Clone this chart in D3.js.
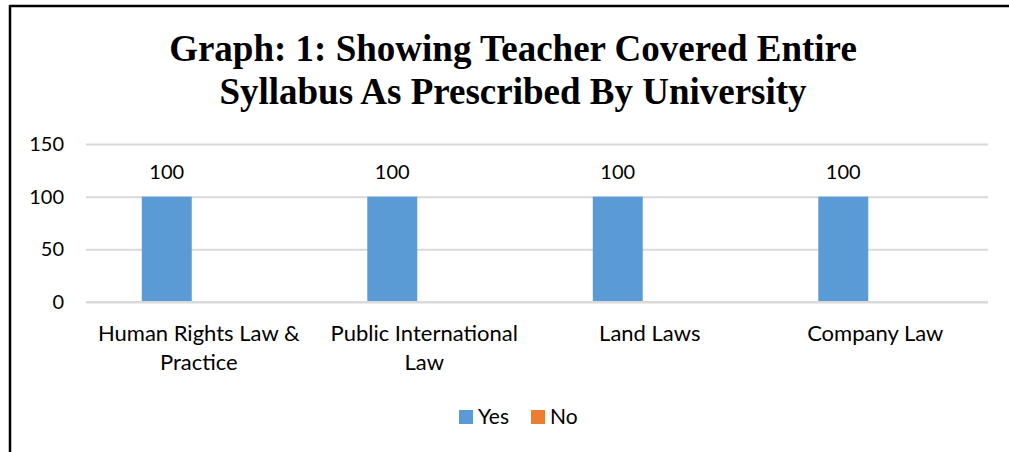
<!DOCTYPE html>
<html>
<head>
<meta charset="utf-8">
<script src="https://cdn.jsdelivr.net/npm/d3@7"></script>
<style>
  html, body { margin: 0; padding: 0; background: #fff; }
  svg { display: block; }
</style>
</head>
<body>
<svg id="chart" width="1009" height="452"></svg>
<script>
// chart data
const titleLines = ["Graph: 1: Showing Teacher Covered Entire", "Syllabus As Prescribed By University"];
const categories = ["Human Rights Law & Practice", "Public International Law", "Land Laws", "Company Law"];
const seriesNames = ["Yes", "No"];
const yesValues = [100, 100, 100, 100];
const noValues = [0, 0, 0, 0];
const yTicks = [0, 50, 100, 150];
const seriesColors = ["#5b9bd5", "#ed7d31"];

const svg = d3.select("#chart");
const width = 1009, height = 452;
const margin = {top: 144, right: 21, bottom: 150, left: 86};
const plotW = width - margin.left - margin.right;
const plotH = height - margin.top - margin.bottom;
const labelFont = "Lato, 'Open Sans', sans-serif";

// frame (top and left border lines)
svg.append("line").attr("x1", 9.5).attr("x2", width).attr("y1", 6).attr("y2", 6)
    .attr("stroke", "#000").attr("stroke-width", 2.5);
svg.append("line").attr("x1", 10).attr("x2", 10).attr("y1", 5).attr("y2", height)
    .attr("stroke", "#000").attr("stroke-width", 2.5);

// title
svg.append("text")
    .attr("x", 513).attr("y", 61)
    .attr("text-anchor", "middle")
    .style("font-family", "'Liberation Serif', 'Times New Roman', serif")
    .style("font-weight", "bold")
    .style("font-size", "37px")
    .selectAll("tspan").data(titleLines).join("tspan")
    .attr("x", 513).attr("dy", (d, i) => i === 0 ? 0 : 43)
    .text(d => d);

const g = svg.append("g").attr("transform", `translate(${margin.left},${margin.top})`);

// scales: category slots for labels, clustered bars sit slightly left of slot centre
const xCat = d3.scaleBand().domain(categories).range([0, plotW]);
const x0 = d3.scaleBand().domain(categories).range([-7, plotW - 7]).paddingInner(0.557).paddingOuter(0.2785);
const x1 = d3.scaleBand().domain(seriesNames).range([0, x0.bandwidth()]);
const y = d3.scaleLinear().domain([0, 150]).range([plotH, 0]);

// gridlines
g.append("g")
    .call(d3.axisLeft(y).tickValues(yTicks).tickSize(-plotW).tickFormat(d3.format("d")).tickPadding(22))
    .call(a => a.select(".domain").remove())
    .call(a => a.selectAll("line").attr("stroke", "#d9d9d9").attr("stroke-width", 2))
    .call(a => a.selectAll("text")
        .style("font-family", labelFont).style("font-size", "20px").attr("fill", "#000"));

// bars
const rows = categories.map((c, i) => ({cat: c, values: [yesValues[i], noValues[i]]}));
const groups = g.selectAll(".grp").data(rows).join("g")
    .attr("class", "grp")
    .attr("transform", d => `translate(${x0(d.cat)},0)`);

groups.selectAll("rect").data(d => d.values.map((v, j) => ({key: seriesNames[j], v: v, j: j}))).join("rect")
    .attr("x", d => x1(d.key))
    .attr("y", d => y(d.v))
    .attr("width", x1.bandwidth())
    .attr("height", d => plotH - y(d.v))
    .attr("fill", d => seriesColors[d.j]);

// data labels for Yes series
groups.append("text")
    .attr("x", x1("Yes") + x1.bandwidth() / 2)
    .attr("y", (d) => y(d.values[0]) - 18)
    .attr("text-anchor", "middle")
    .style("font-family", labelFont).style("font-size", "20px")
    .text(d => d.values[0]);

// x axis line on top of bars
g.append("line").attr("x1", 0).attr("x2", plotW).attr("y1", plotH).attr("y2", plotH)
    .attr("stroke", "#d9d9d9").attr("stroke-width", 2);

// category labels, wrapped
function wrap(textSel, maxW) {
    textSel.each(function() {
        const t = d3.select(this);
        const words = t.text().split(/\s+/);
        t.text(null);
        let line = [];
        let tspan = t.append("tspan").attr("x", t.attr("x")).attr("dy", 0);
        words.forEach(w => {
            line.push(w);
            tspan.text(line.join(" "));
            if (tspan.node().getComputedTextLength() > maxW && line.length > 1) {
                line.pop();
                tspan.text(line.join(" "));
                line = [w];
                tspan = t.append("tspan").attr("x", t.attr("x")).attr("dy", 29).text(w);
            }
        });
    });
}

g.selectAll(".cat").data(categories).join("text")
    .attr("class", "cat")
    .attr("x", d => xCat(d) + xCat.bandwidth() / 2)
    .attr("y", plotH + 39)
    .attr("text-anchor", "middle")
    .style("font-family", labelFont).style("font-size", "22px")
    .text(d => d)
    .call(wrap, 210);

// legend
const legend = svg.append("g").attr("transform", "translate(459,410)");
const items = legend.selectAll("g").data(seriesNames).join("g")
    .attr("transform", (d, i) => `translate(${i * 72},0)`);
items.append("rect").attr("width", 14).attr("height", 14).attr("fill", (d, i) => seriesColors[i]);
items.append("text").attr("x", 19).attr("y", 14)
    .style("font-family", labelFont).style("font-size", "21px")
    .text(d => d);
</script>
</body>
</html>
